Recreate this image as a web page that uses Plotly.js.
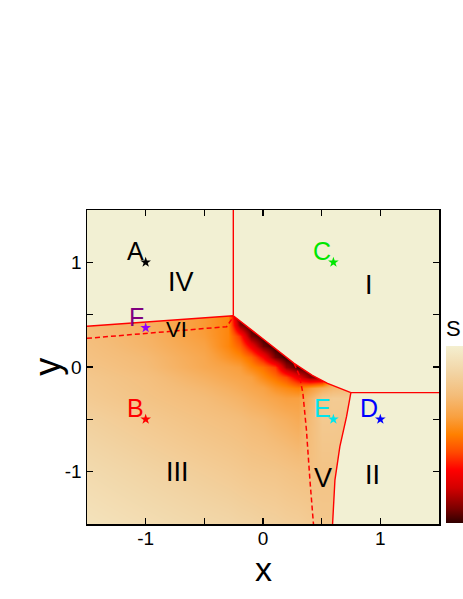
<!DOCTYPE html>
<html>
<head>
<meta charset="utf-8">
<script src="https://cdn.plot.ly/plotly-3.0.1.min.js"></script>
<style>
  html, body { margin: 0; padding: 0; background: #fff; }
  #chart { width: 463px; height: 599px; }
</style>
</head>
<body>
<div id="chart"></div>
<script>
// 網格座標 (x 欄, y 列)
const gridX = [-1.5, -1.0, -0.5, -0.3, -0.2, -0.1, 0, 0.1, 0.2, 0.3, 0.4, 0.5, 0.6, 0.7, 0.8, 1.5];
const gridY = [-1.5, -1.0, -0.5, -0.3, -0.2, -0.1, 0, 0.1, 0.2, 0.3, 0.4, 0.5, 0.6, 1.5];

// S 值 (從圖上估計, 0 = 深色, 1 = 淺色)
const gridS = [
  [0.93, 0.90, 0.87, 0.86, 0.85, 0.845, 0.835, 0.83, 0.82, 0.815, 0.80, 0.78, 0.78, 0.78, 0.78, 0.78],
  [0.885, 0.85, 0.815, 0.80, 0.79, 0.78, 0.775, 0.77, 0.76, 0.75, 0.745, 0.76, 0.76, 0.76, 0.76, 0.76],
  [0.83, 0.79, 0.75, 0.735, 0.725, 0.71, 0.70, 0.68, 0.665, 0.645, 0.72, 0.79, 0.79, 0.78, 0.78, 0.78],
  [0.80, 0.76, 0.72, 0.695, 0.68, 0.66, 0.64, 0.62, 0.60, 0.60, 0.68, 0.78, 0.80, 0.80, 0.80, 0.80],
  [0.79, 0.75, 0.70, 0.67, 0.65, 0.63, 0.61, 0.56, 0.53, 0.50, 0.58, 0.65, 0.70, 0.72, 0.75, 0.75],
  [0.78, 0.74, 0.67, 0.635, 0.62, 0.60, 0.53, 0.47, 0.40, 0.25, 0.10, 0.10, 0.60, 0.70, 0.75, 0.75],
  [0.765, 0.72, 0.64, 0.61, 0.59, 0.52, 0.47, 0.38, 0.12, 0.02, 0, 0, 0.60, 0.70, 0.75, 0.75],
  [0.75, 0.71, 0.63, 0.56, 0.52, 0.45, 0.30, 0.08, 0, 0, 0, 0, 0.60, 0.70, 0.75, 0.75],
  [0.74, 0.69, 0.61, 0.52, 0.44, 0.27, 0.07, 0, 0, 0, 0, 0, 0.60, 0.70, 0.75, 0.75],
  [0.73, 0.68, 0.59, 0.52, 0.36, 0.08, 0, 0, 0, 0, 0, 0, 0.60, 0.70, 0.75, 0.75],
  [0.72, 0.67, 0.58, 0.52, 0.10, 0, 0, 0, 0, 0, 0, 0, 0.60, 0.70, 0.75, 0.75],
  [0.72, 0.67, 0.58, 0.52, 0, 0, 0, 0, 0, 0, 0, 0, 0.60, 0.70, 0.75, 0.75],
  [0.72, 0.67, 0.58, 0.52, 0, 0, 0, 0, 0, 0, 0, 0, 0.60, 0.70, 0.75, 0.75],
  [0.72, 0.67, 0.58, 0.52, 0, 0, 0, 0, 0, 0, 0, 0, 0.60, 0.70, 0.75, 0.75]
];

// 相界 (實線)
const leftLineX = [-1.5, -0.253];
const leftLineY = [0.39, 0.49];
const vertLineX = [-0.253, -0.253];
const vertLineY = [0.49, 1.5];
const diagLineX = [-0.253, 0, 0.265, 0.42, 0.55, 0.749];
const diagLineY = [0.49, 0.27, 0.035, -0.08, -0.156, -0.245];
const horizLineX = [0.749, 1.5];
const horizLineY = [-0.245, -0.245];
const curveLineX = [0.749, 0.712, 0.655, 0.613, 0.593];
const curveLineY = [-0.245, -0.475, -0.761, -1.08, -1.5];

// 相界 (虛線)
const dashVIX = [-1.5, -1.0, -0.31, -0.253];
const dashVIY = [0.274, 0.32, 0.385, 0.48];
const dashVX = [0.265, 0.31, 0.34, 0.37, 0.40, 0.43];
const dashVY = [0.035, -0.08, -0.25, -0.6, -1.08, -1.5];

// 標記點
const pointNames = ['A', 'B', 'C', 'D', 'E', 'F'];
const pointX = [-1, -1, 0.6, 1, 0.6, -1];
const pointY = [1, -0.5, 1, -0.5, -0.5, 0.375];
const letterColors = ['#000000', '#ff0000', '#00e600', '#0000ff', '#00e5ee', '#800080'];
const starColors = ['#000000', '#ff0000', '#00e600', '#0000ff', '#00e5ee', '#8f00ff'];

// 區域標籤
const regionNames = ['I', 'II', 'III', 'IV', 'V', 'VI'];
const regionX = [0.905, 0.93, -0.73, -0.70, 0.508, -0.734];
const regionY = [0.78, -1.03, -1.0, 0.815, -1.063, 0.36];
const regionSizes = [27, 27, 27, 27, 27, 22];

const cream = '#f2f0d3';
const fontFamily = 'Arial, "Liberation Sans", sans-serif';

const colorscale = [
  [0, '#300000'], [0.08, '#7a0000'], [0.2, '#d40000'], [0.3, '#ff0000'],
  [0.4, '#ff4a00'], [0.5, '#ff8000'], [0.6, '#f9a040'], [0.72, '#f4bc78'],
  [0.85, '#f2d4a4'], [1, '#f4efd0']
];

const traces = [];

// 熱圖
traces.push({
  type: 'heatmap',
  x: gridX,
  y: gridY,
  z: gridS,
  zmin: 0,
  zmax: 1,
  zsmooth: 'best',
  colorscale: colorscale,
  hoverinfo: 'skip',
  colorbar: {
    thickness: 17,
    x: 1.02,
    xanchor: 'left',
    xpad: 0,
    len: 0.66,
    lenmode: 'fraction',
    y: 0.003,
    yanchor: 'bottom',
    ypad: 0,
    outlinewidth: 0,
    ticks: '',
    showticklabels: false,
    title: { text: 'S', side: 'top', font: { size: 22, family: fontFamily, color: '#000' } }
  }
});

// 淺色區域 IV
traces.push({
  type: 'scatter', mode: 'lines', hoverinfo: 'skip', showlegend: false,
  x: leftLineX.concat([-0.253, -1.5]),
  y: leftLineY.concat([1.6, 1.6]),
  fill: 'toself', fillcolor: cream, line: { width: 0 }
});

// 淺色區域 I + II
traces.push({
  type: 'scatter', mode: 'lines', hoverinfo: 'skip', showlegend: false,
  x: [-0.253].concat(diagLineX, curveLineX, [0.59, 1.6, 1.6]),
  y: [1.6].concat(diagLineY, curveLineY, [-1.6, -1.6, 1.6]),
  fill: 'toself', fillcolor: cream, line: { width: 0 }
});

// 實線
[[leftLineX, leftLineY], [vertLineX, vertLineY], [diagLineX, diagLineY],
 [horizLineX, horizLineY], [curveLineX, curveLineY]].forEach(seg => {
  traces.push({
    type: 'scatter', mode: 'lines', hoverinfo: 'skip', showlegend: false,
    x: seg[0], y: seg[1],
    line: { color: '#ff0000', width: 1.4 }
  });
});

// 虛線
[[dashVIX, dashVIY], [dashVX, dashVY]].forEach(seg => {
  traces.push({
    type: 'scatter', mode: 'lines', hoverinfo: 'skip', showlegend: false,
    x: seg[0], y: seg[1],
    line: { color: '#ff0000', width: 1.5, dash: '5px,3px' }
  });
});

// 星號
traces.push({
  type: 'scatter', mode: 'markers', hoverinfo: 'skip', showlegend: false,
  x: pointX, y: pointY,
  marker: { symbol: 'star', size: 8, color: starColors, line: { width: 0 } }
});

const annotations = [];
pointNames.forEach((name, i) => {
  annotations.push({
    x: pointX[i], y: pointY[i], text: name, showarrow: false,
    xanchor: 'right', yanchor: 'bottom', xshift: 0, yshift: -5,
    font: { size: 25, family: fontFamily, color: letterColors[i] }
  });
});
regionNames.forEach((name, i) => {
  annotations.push({
    x: regionX[i], y: regionY[i], text: name, showarrow: false,
    xanchor: 'center', yanchor: 'middle',
    font: { size: regionSizes[i], family: fontFamily, color: '#000' }
  });
});

// 軸標題
annotations.push({
  xref: 'paper', yref: 'paper', x: 0.5, y: -0.08, text: 'x', showarrow: false,
  xanchor: 'center', yanchor: 'top', borderpad: 0,
  font: { size: 34, family: fontFamily, color: '#000' }
});
annotations.push({
  xref: 'paper', yref: 'paper', x: -0.114, y: 0.5, text: 'y', showarrow: false,
  xanchor: 'center', yanchor: 'middle', textangle: -90,
  font: { size: 36, family: fontFamily, color: '#000' }
});

const axisCommon = {
  range: [-1.5, 1.5],
  tickvals: [-1, -0.5, 0, 0.5, 1],
  ticktext: ['-1', '', '0', '', '1'],
  ticks: 'inside',
  ticklen: 6,
  tickwidth: 1.2,
  tickcolor: '#000',
  showline: true,
  linecolor: '#000',
  linewidth: 1.5,
  mirror: 'ticks',
  showgrid: false,
  zeroline: false,
  tickfont: { size: 19, family: fontFamily, color: '#000' }
};

const layout = {
  width: 463,
  height: 599,
  margin: { l: 87, r: 24, t: 210, b: 75, autoexpand: false },
  paper_bgcolor: '#ffffff',
  plot_bgcolor: cream,
  showlegend: false,
  xaxis: Object.assign({}, axisCommon, { ticklabelstandoff: -3 }),
  yaxis: Object.assign({}, axisCommon),
  annotations: annotations
};

Plotly.newPlot('chart', traces, layout, { staticPlot: true });
</script>
</body>
</html>
